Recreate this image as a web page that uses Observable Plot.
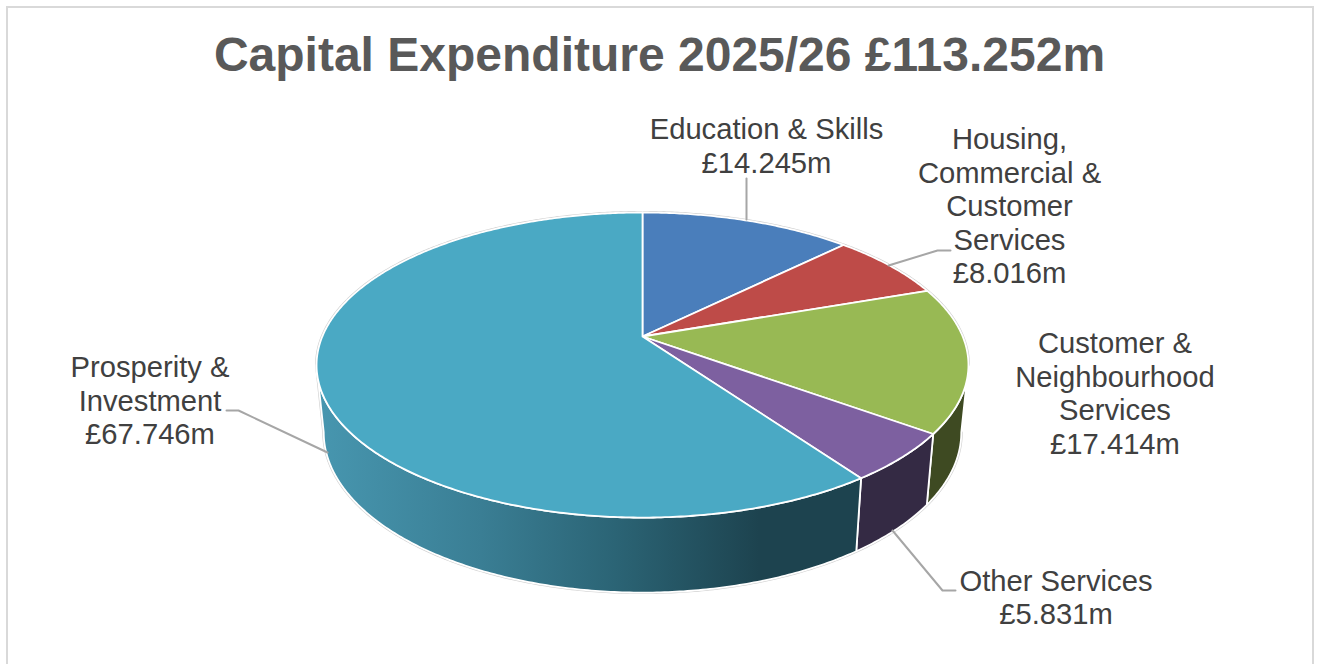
<!DOCTYPE html>
<html>
<head>
<meta charset="utf-8">
<script src="https://cdn.jsdelivr.net/npm/d3@7"></script>
<script src="https://cdn.jsdelivr.net/npm/@observablehq/plot@0.6"></script>
<style>
html,body{margin:0;padding:0;background:#fff;overflow:hidden}
#wrap{position:relative;width:1319px;height:664px;overflow:hidden}
#frame{position:absolute;left:6px;top:6px;width:1304px;height:700px;border:2px solid #d9d9d9;box-sizing:content-box}
#title{position:relative;height:100px;text-align:center;font:bold 48px/110px "Liberation Sans",Arial,sans-serif;color:#595959;left:0;width:1319px}
#chart{position:relative;height:564px}
svg{display:block}
</style>
</head>
<body>
<div id="wrap">
<div id="frame"></div>
<div id="title">Capital Expenditure 2025/26 £113.252m</div>
<div id="chart"></div>
</div>
<script>
// Data, clockwise from twelve o'clock
const categories = ["Education & Skills","Housing, Commercial & Customer Services","Customer & Neighbourhood Services","Other Services","Prosperity & Investment"];
const values = [14.245, 8.016, 17.414, 5.831, 67.746];
const valueLabels = ["£14.245m","£8.016m","£17.414m","£5.831m","£67.746m"];
const labelLines = [
  ["Education & Skills"],
  ["Housing,","Commercial &","Customer","Services"],
  ["Customer &","Neighbourhood","Services"],
  ["Other Services"],
  ["Prosperity &","Investment"]
];

// Styles
const topColors = ["#4A7EBB","#BE4B48","#98B954","#7D60A0","#4AA9C4"];
const sideColors = ["#2c4a70","#702c2a","#3E4A22","#342A44","url(#sideGrad)"];

// Layout
const cx = 642, cy = 336;
const A = 320.2, B = 147.2, K = 0.187;      // perspective of the top disc
const sideShrink = 0.978, sideStretch = 1.05, sideDrop = 66;
const labelAt = [[766,145],[1009,205],[1114.5,392.5],[1055.5,596.5],[149.5,399.5]];
const leaders = [
  [[746,178],[746,219]],
  [[950,250],[937,250],[888,265]],
  [[955,590],[942,590],[892,530]],
  [[226,410],[238,410],[327,452]]
];

const total = d3.sum(values);
const top3 = t => {
  const u = Math.sin(t), v = Math.cos(t), w = 1 + K * v;
  return {x: cx + A * u / w, y: cy - B * v / w};
};
const bottom3 = t => {
  const p = top3(t);
  return {x: cx + (p.x - cx) * sideShrink, y: cy + sideDrop + (p.y - cy) * sideStretch};
};
const arc = (a, b, f) => {
  const n = Math.max(2, Math.ceil(Math.abs(b - a) / 0.01));
  return d3.range(n + 1).map(i => f(a + (b - a) * i / n));
};

const cum = d3.cumsum(values);
const ang = i => 2 * Math.PI * (i < 0 ? 0 : cum[i]) / total;
const slices = values.map((_, i) => [ang(i - 1), ang(i)]);

// The rim's side is visible between the two silhouette angles
const tRight = Math.PI - Math.acos(K), tLeft = Math.PI + Math.acos(K);

const sideMarks = [];
slices.forEach(([a, b], i) => {
  const s = Math.max(a, tRight), e = Math.min(b, tLeft);
  if (e <= s) return;
  const pts = [...arc(s, e, top3), ...arc(e, s, bottom3)];
  pts.push(pts[0]);
  sideMarks.push(Plot.line(pts, {x:"x", y:"y", fill:sideColors[i], stroke:"white", strokeWidth:1.8, strokeLinejoin:"round"}));
});

const silhouette = [...arc(tRight, tLeft, bottom3), top3(tLeft), ...arc(tLeft, tRight + 2 * Math.PI, top3)];
const topMarks = slices.map(([a, b], i) => {
  const pts = [{x:cx, y:cy}, ...arc(a, b, top3), {x:cx, y:cy}];
  return Plot.line(pts, {x:"x", y:"y", fill:topColors[i], stroke:"white", strokeWidth:1.8, strokeLinejoin:"round"});
});

const labels = categories.map((c, i) => ({
  text: [...labelLines[i], valueLabels[i]].join("\n"),
  x: labelAt[i][0], y: labelAt[i][1]
}));

const gradient = () => {
  const g = d3.create("svg:defs").append("linearGradient")
    .attr("id","sideGrad").attr("gradientUnits","userSpaceOnUse")
    .attr("x1",320).attr("x2",855).attr("y1",0).attr("y2",0);
  [[0,"#4796AF"],[0.3,"#3A7E94"],[0.55,"#2B6475"],[0.82,"#1D434F"],[1,"#1D434F"]].forEach(([o,c]) =>
    g.append("stop").attr("offset",o).attr("stop-color",c));
  return g.node().parentNode;
};

const plot = Plot.plot({
  width: 1319, height: 564,
  margin: 0,
  style: {background:"transparent", overflow:"visible"},
  x: {domain:[0,1319], range:[0,1319], axis:null},
  y: {domain:[100,664], range:[0,564], axis:null},
  marks: [
    gradient,
    Plot.line(silhouette, {x:"x", y:"y", stroke:"#d0d0d0", strokeWidth:3, strokeLinejoin:"round"}),
    ...sideMarks,
    ...topMarks,
    ...leaders.map(l => Plot.line(l, {x:d=>d[0], y:d=>d[1], stroke:"#a6a6a6", strokeWidth:2})),
    Plot.text(labels, {x:"x", y:"y", text:"text", fontSize:29.2, lineHeight:1.148, fill:"#404040", fontFamily:"Liberation Sans, Arial, sans-serif", textAnchor:"middle"})
  ]
});
document.getElementById("chart").appendChild(plot);
</script>
</body>
</html>
